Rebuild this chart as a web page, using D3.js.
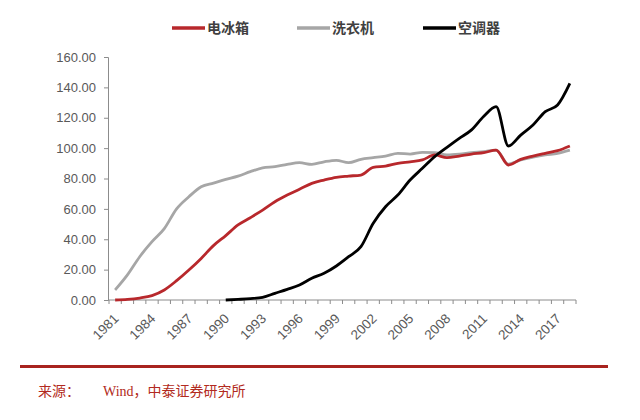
<!DOCTYPE html>
<html>
<head>
<meta charset="utf-8">
<script src="https://cdn.jsdelivr.net/npm/d3@7"></script>
<style>
  body { margin: 0; background: #fff; }
  svg { display: block; }
</style>
</head>
<body>
<script>
var years = d3.range(1981, 2019);
var labelYears = [1981, 1984, 1987, 1990, 1993, 1996, 1999, 2002, 2005, 2008, 2011, 2014, 2017];
var yTicks = [0, 20, 40, 60, 80, 100, 120, 140, 160];

// 电冰箱 (1981-2018)
var fridge = [0, 0.4, 1.3, 2.9, 6.6, 12.7, 19.7, 27.4, 35.8, 42.4, 49.4, 54.2, 59.2, 64.7, 69.1, 72.9,
  76.8, 79, 80.8, 81.6, 82.3, 87.3, 88.2, 90, 91, 92.2, 95.5, 93.7, 94.8, 96.1, 97, 98.7,
  88.9, 92.6, 94.8, 96.6, 98.3, 101.4];
// 洗衣机
var washer = [6.6, 16.5, 28.5, 38.4, 47, 60, 68, 74.6, 77, 79.4, 81.6, 84.5, 87, 87.8, 89.3, 90.4,
  89.3, 91, 92, 90.4, 92.6, 93.7, 94.8, 96.6, 96.1, 97.2, 97, 95.5, 96, 97, 97.7, 98.7,
  89.5, 92.2, 94, 95.5, 96.6, 98.7];
// 空调器 (from 1990)
var aircon = [null, null, null, null, null, null, null, null, null,
  0, 0.4, 0.9, 1.8, 4.4, 7, 9.9, 14.3, 17.6, 22.4, 28.5, 35.1, 50.5, 61.4, 69.1, 79, 86.7,
  94.4, 100.5, 106.4, 112, 121, 127.3, 101.4, 108.6, 115.2, 124, 128.4, 142.6];

var seriesNames = ["电冰箱", "洗衣机", "空调器"];
var seriesColors = ["#b8282c", "#a6a6a6", "#000000"];
var seriesData = [fridge, washer, aircon];

var W = 640, H = 420;
var svg = d3.select("body").append("svg").attr("width", W).attr("height", H);

var x = d3.scaleBand().domain(years).range([109, 576]);
var y = d3.scaleLinear().domain([0, 160]).range([300, 57]);

var axisColor = "#8c8c8c";
var labelColor = "#595959";

// y axis
var gy = svg.append("g").attr("transform", "translate(108,0)")
  .call(d3.axisLeft(y).tickValues(yTicks).tickFormat(d3.format(".2f")).tickSizeOuter(0).tickSize(4).tickPadding(8));
gy.select(".domain").attr("stroke", axisColor);
gy.selectAll(".tick line").attr("stroke", axisColor);
gy.selectAll("text").attr("fill", labelColor).style("font-family", "Arial, 'Liberation Sans', sans-serif").style("font-size", "13px");

// x axis: ticks at band boundaries
svg.append("line").attr("x1", 108).attr("x2", 576).attr("y1", 300).attr("y2", 300).attr("stroke", axisColor);
var bounds = years.map(function(d) { return x(d); }).concat([x.range()[1]]);
svg.selectAll(".xt").data(bounds).enter().append("line")
  .attr("x1", function(d) { return d; }).attr("x2", function(d) { return d; })
  .attr("y1", 300).attr("y2", 304).attr("stroke", axisColor);

svg.selectAll(".xl").data(labelYears).enter().append("text")
  .attr("transform", function(d) {
    return "translate(" + (x(d) + x.bandwidth() / 2 + 1) + ",316) rotate(-45)";
  })
  .attr("text-anchor", "end")
  .attr("dy", "0.35em")
  .attr("fill", labelColor)
  .style("font-family", "Arial, 'Liberation Sans', sans-serif")
  .style("font-size", "13.5px")
  .text(function(d) { return d; });

// lines
var line = d3.line()
  .defined(function(d) { return d != null; })
  .x(function(d, i) { return x(years[i]) + x.bandwidth() / 2; })
  .y(function(d) { return y(d); })
  .curve(d3.curveMonotoneX);

// draw washer, fridge, aircon order
[1, 0, 2].forEach(function(k) {
  svg.append("path").datum(seriesData[k])
    .attr("fill", "none")
    .attr("stroke", seriesColors[k])
    .attr("stroke-width", 2.8)
    .attr("stroke-linejoin", "round")
    .attr("d", line);
});

// legend
var legendX = [172, 297, 423];
seriesNames.forEach(function(n, k) {
  var g = svg.append("g").attr("transform", "translate(" + legendX[k] + ",28)");
  g.append("line").attr("x1", 0).attr("x2", 33).attr("y1", 0).attr("y2", 0)
    .attr("stroke", seriesColors[k]).attr("stroke-width", 3.5);
  g.append("text").attr("x", 35).attr("y", 5)
    .attr("fill", "#404040")
    .style("font-family", "'Noto Sans CJK SC', sans-serif")
    .style("font-size", "14px").style("font-weight", "bold")
    .text(n);
});

// footer
svg.append("line").attr("x1", 20).attr("x2", 608).attr("y1", 366.5).attr("y2", 366.5)
  .attr("stroke", "#a8231f").attr("stroke-width", 3);
svg.append("text").attr("x", 38).attr("y", 396)
  .attr("fill", "#b22a20")
  .style("font-family", "'Noto Sans CJK SC', serif")
  .style("font-size", "14px")
  .text("来源：");
svg.append("text").attr("x", 103).attr("y", 396)
  .attr("fill", "#b22a20")
  .style("font-family", "'Liberation Serif', 'Noto Sans CJK SC', serif")
  .style("font-size", "14px")
  .text("Wind，中泰证券研究所");
</script>
</body>
</html>
